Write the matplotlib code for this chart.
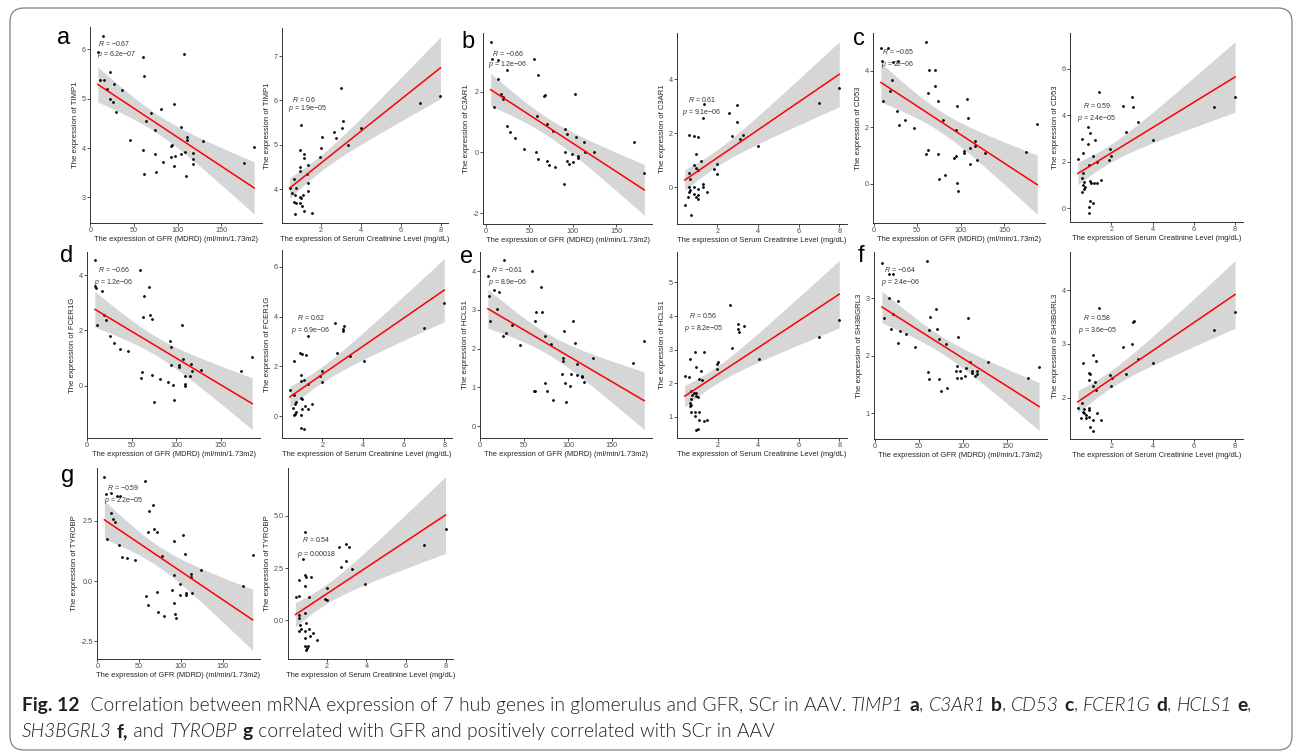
import numpy as np
import matplotlib
matplotlib.use("Agg")
import matplotlib.pyplot as plt
from matplotlib.patches import FancyBboxPatch

plt.rcParams['font.family'] = ['Liberation Sans', 'DejaVu Sans']
plt.rcParams['mathtext.fontset'] = 'custom'
plt.rcParams['mathtext.rm'] = 'Liberation Sans'
plt.rcParams['mathtext.it'] = 'Liberation Sans:italic'

W, H = 1295, 755

# ---- expression vs GFR / serum creatinine, one pair of series per gene ----
timp1_gfr_x = [15, 8.5, 60, 108, 11, 16, 22, 27, 18.5, 22, 26.5, 29, 36, 62, 81, 96, 69, 64, 74, 46,
               104, 111, 111, 129, 93, 94, 60, 74, 109, 104, 93, 97, 118, 118, 83, 96, 118, 75, 62, 110, 176, 188]
timp1_gfr_y = [6.27, 5.95, 5.85, 5.9, 5.38, 5.38, 5.54, 5.29, 5.19, 5.0, 4.93, 4.74, 5.18, 5.45, 4.79, 4.89, 4.71,
               4.54, 4.36, 4.17, 4.42, 4.22, 4.17, 4.15, 4.04, 4.07, 3.97, 3.87, 3.93, 3.87, 3.82, 3.84, 3.89, 3.77,
               3.72, 3.64, 3.67, 3.52, 3.47, 3.44, 3.7, 4.02]
timp1_scr_x = [3.0, 3.09, 3.06, 2.64, 2.75, 2.05, 2.02, 1.94, 3.33, 4.02, 6.96, 7.97, 1.0, 0.93, 1.17, 1.17, 0.96,
               0.94, 1.33, 1.3, 1.33, 0.64, 0.77, 0.43, 0.69, 0.93, 1.0, 1.12, 1.33, 0.93, 0.77, 0.64, 1.04, 1.17,
               1.54, 0.69, 0.53]
timp1_scr_y = [6.27, 5.54, 5.39, 5.29, 5.16, 5.17, 4.94, 4.73, 5.0, 5.37, 5.95, 6.1, 5.45, 4.88, 4.79, 4.7, 4.51,
               4.42, 4.55, 4.34, 4.15, 4.23, 4.02, 4.02, 3.87, 3.83, 3.8, 3.86, 3.95, 3.7, 3.68, 3.72, 3.62, 3.52,
               3.47, 3.44, 3.92]

c3ar1_gfr_x = [5.6, 7.5, 14, 14, 24, 55, 60, 18, 19.5, 20, 9.4, 66.5, 68, 59, 70, 77, 24, 28, 34, 44, 58, 60,
               70, 72, 80, 91, 93, 102, 104, 113, 91, 93, 95, 100, 99, 106, 106, 114, 124, 89.5, 170, 182]
c3ar1_gfr_y = [3.64, 3.06, 3.03, 2.4, 2.71, 3.06, 2.55, 1.93, 1.83, 1.75, 1.48, 1.86, 1.88, 1.2, 0.95, 0.69, 0.87,
               0.66, 0.49, 0.11, 0.03, -0.2, -0.27, -0.42, -0.49, 0.77, 0.62, 1.93, 0.51, 0.35, 0.02, -0.27, -0.38,
               -0.31, -0.05, -0.11, -0.19, 0.02, 0.02, -1.04, 0.35, -0.66]
c3ar1_scr_x = [8.0, 7.0, 2.96, 2.99, 2.56, 2.72, 3.12, 3.28, 4.0, 1.84, 1.97, 2.0, 1.36, 1.28, 0.59, 0.88, 1.07,
               0.93, 1.2, 0.88, 0.96, 1.07, 0.59, 0.66, 0.4, 0.69, 0.59, 0.64, 0.88, 1.04, 1.28, 1.28, 1.49, 0.88,
               0.96, 1.07, 1.04, 0.59, 0.56]
c3ar1_scr_y = [3.69, 3.11, 3.04, 2.42, 2.73, 1.91, 1.78, 1.94, 1.51, 0.68, 0.86, 0.49, 3.08, 2.56, 1.93, 1.88,
               1.85, 1.23, 0.98, 0.8, 0.7, 0.65, 0.53, 0.31, -0.68, -1.05, 0.0, -0.12, 0.0, -0.06, 0.12, 0.0, -0.18,
               -0.25, -0.37, -0.43, -0.31, -0.18, -0.37]

cd53_gfr_x = [8.3, 16, 60, 9.4, 22.6, 27.5, 10.6, 20.8, 18.9, 26.4, 29.4, 35.8, 46, 63.4, 70, 71, 62.3, 73.6, 80,
              95.5, 107, 108.7, 94.3, 62.3, 60.4, 73.6, 94.3, 92.8, 103.8, 103.8, 110.6, 117, 116, 110.6, 119,
              128, 75.5, 82, 96, 97, 175, 188]
cd53_gfr_y = [4.82, 4.82, 5.03, 4.34, 4.3, 4.36, 2.93, 3.69, 3.28, 2.57, 2.07, 2.25, 1.98, 4.02, 4.02, 3.46, 3.22,
              2.93, 2.25, 2.75, 2.99, 2.34, 1.89, 1.21, 1.04, 1.04, 0.97, 0.92, 1.09, 1.15, 1.28, 1.51, 1.34, 0.71,
              0.85, 1.1, 0.18, 0.33, 0.02, -0.26, 1.12, 2.13]
cd53_scr_x = [1.39, 3.0, 3.07, 2.59, 3.28, 2.7, 4.0, 7.0, 8.0, 1.95, 2.0, 1.9, 0.88, 0.96, 1.23, 0.88, 0.59, 0.62,
              1.1, 0.38, 1.3, 0.91, 0.62, 0.59, 0.67, 0.64, 0.72, 0.96, 1.02, 1.15, 1.3, 1.49, 0.59, 0.67, 0.96,
              1.1, 0.91, 0.91]
cd53_scr_y = [5.01, 4.79, 4.33, 4.38, 3.69, 3.28, 2.93, 4.35, 4.79, 2.55, 2.26, 2.08, 3.47, 3.21, 2.92, 2.77,
              2.99, 2.35, 2.23, 2.13, 1.98, 1.86, 1.5, 1.3, 1.13, 0.98, 0.91, 1.16, 1.06, 1.06, 1.06, 1.2, 0.69,
              0.84, 0.32, 0.21, 0.03, -0.23]

fcer1g_gfr_x = [8.6, 9.3, 9.7, 16.8, 11.2, 19.4, 21.6, 26, 29.9, 36.6, 46, 59, 63.4, 69, 70, 72.8, 62.7, 106,
                93, 94, 107, 102.6, 102.6, 94, 116, 117, 127.6, 61.6, 60.4, 72.8, 82, 91, 95.9, 110, 110, 110,
                115.7, 75, 97, 172.8, 185]
fcer1g_gfr_y = [4.54, 3.6, 3.54, 3.44, 2.21, 2.55, 2.39, 1.81, 1.55, 1.33, 1.24, 4.2, 3.24, 3.58, 2.55, 2.43,
                2.48, 2.19, 1.61, 1.39, 0.98, 0.66, 0.74, 0.73, 0.79, 0.52, 0.56, 0.48, 0.28, 0.37, 0.22, 0.13,
                0.01, 0.34, 0.06, 0.0, 0.34, -0.6, -0.54, 0.52, 1.03]
fcer1g_scr_x = [2.61, 3.0, 3.08, 3.0, 2.74, 3.34, 4.05, 7.0, 8.0, 1.32, 1.97, 2.0, 1.89, 0.9, 0.98, 1.22, 0.61,
                0.93, 1.09, 1.3, 0.93, 0.4, 0.61, 0.93, 1.01, 0.72, 0.66, 1.5, 1.15, 1.3, 0.58, 1.01, 0.72, 0.66,
                0.61, 0.93, 0.93, 1.12]
fcer1g_scr_y = [3.76, 3.42, 3.61, 3.49, 2.54, 2.4, 2.23, 3.53, 4.53, 3.22, 1.82, 1.36, 1.59, 2.54, 2.5, 2.44,
                2.23, 1.63, 1.45, 1.28, 1.41, 1.03, 0.84, 0.73, 0.68, 0.57, 0.5, 0.5, 0.41, 0.27, 0.33, 0.27, 0.16,
                0.07, 0.03, 0.03, -0.49, -0.54]

hcls1_gfr_x = [27.5, 58.8, 8.7, 9.8, 16.2, 21.8, 19.2, 11.7, 36.2, 29.4, 26.4, 45.6, 69, 63.3, 70, 62.5, 73.4,
               80.2, 105.8, 95.3, 107.7, 94.5, 94.5, 103.6, 110.4, 116, 116, 128, 110.4, 118.6, 92.7, 96.4, 102.8,
               73.4, 61.4, 62.5, 75.7, 82.9, 97.2, 174.4, 186.8]
hcls1_gfr_y = [4.28, 4.02, 3.87, 3.36, 3.51, 3.47, 3.02, 2.71, 2.62, 2.4, 2.34, 2.09, 3.59, 2.94, 2.94, 2.71,
               2.32, 2.13, 2.72, 2.47, 2.15, 1.75, 1.69, 1.35, 1.32, 1.3, 1.26, 1.77, 1.6, 1.13, 1.35, 1.11, 1.04,
               1.11, 0.9, 0.9, 0.9, 0.67, 0.62, 1.64, 2.2]
hcls1_scr_x = [2.59, 3.0, 3.28, 3.0, 3.07, 2.72, 2.0, 1.95, 1.95, 4.03, 6.99, 8.0, 0.91, 1.31, 0.62, 0.94, 1.18,
               1.1, 1.25, 0.38, 0.59, 0.7, 0.83, 0.94, 0.94, 0.75, 0.67, 0.64, 0.7, 0.64, 1.01, 0.67, 0.91, 1.1,
               0.91, 1.07, 1.31, 1.5, 0.94, 1.01]
hcls1_scr_y = [4.34, 3.75, 3.7, 3.6, 3.52, 3.05, 2.63, 2.41, 2.56, 2.71, 3.37, 3.89, 2.93, 2.93, 2.73, 2.49,
               2.36, 2.14, 2.09, 2.21, 2.19, 1.77, 1.72, 1.7, 1.62, 1.64, 1.54, 1.42, 1.35, 1.31, 1.6, 1.13, 1.13,
               1.13, 1.03, 0.91, 0.88, 0.9, 0.62, 0.65]

sh3bgrl3_gfr_x = [8.3, 59, 15.8, 21.4, 15.8, 27, 10.9, 20.7, 18.4, 29, 35.7, 26, 45.9, 62.8, 69.5, 70.3, 62,
                  73.3, 80.5, 106, 94.7, 108, 127.8, 93.6, 96, 92, 103, 110, 110, 116, 116, 113.5, 102, 93.6,
                  97.4, 59.8, 62, 73, 74.8, 81.6, 173.7, 185.7]
sh3bgrl3_gfr_y = [3.62, 3.66, 3.42, 3.43, 3.0, 2.95, 2.65, 2.73, 2.46, 2.43, 2.38, 2.22, 2.16, 2.68, 2.81, 2.47,
                  2.45, 2.3, 2.21, 2.65, 2.32, 1.9, 1.9, 1.83, 1.73, 1.73, 1.79, 1.74, 1.7, 1.73, 1.68, 1.65, 1.65,
                  1.61, 1.62, 1.71, 1.6, 1.6, 1.39, 1.43, 1.61, 1.81]
sh3bgrl3_scr_x = [1.41, 3.04, 3.1, 2.59, 3.02, 3.31, 4.0, 2.72, 1.92, 2.03, 2.0, 6.99, 8.0, 1.12, 1.26, 1.28,
                  1.23, 1.12, 0.91, 0.96, 0.91, 0.62, 0.38, 0.59, 0.67, 0.62, 0.67, 0.75, 0.91, 0.91, 0.91, 0.78,
                  1.3, 1.12, 1.52, 0.99, 1.1, 0.54]
sh3bgrl3_scr_y = [3.66, 3.4, 3.43, 2.95, 2.99, 2.72, 2.64, 2.45, 2.42, 2.37, 2.22, 3.26, 3.6, 2.8, 2.68, 2.15,
                  2.29, 2.22, 2.46, 2.45, 2.33, 2.65, 1.8, 1.9, 1.79, 1.74, 1.71, 1.68, 1.8, 1.77, 1.65, 1.62, 1.71,
                  1.59, 1.59, 1.45, 1.39, 1.63]

tyrobp_gfr_x = [8.5, 57.7, 10.4, 16.5, 23, 27, 67.3, 61.5, 16.5, 19.2, 21, 11.5, 26, 29, 36, 45, 68, 71, 60.4,
                103, 92.3, 105, 78, 91.5, 124, 112, 112, 99, 99.6, 106.5, 106.5, 114, 90, 71, 58.8, 60.4, 91.5,
                73, 80, 93, 94, 174, 186]
tyrobp_gfr_y = [4.33, 4.17, 3.61, 3.65, 3.51, 3.51, 3.17, 2.9, 2.81, 2.56, 2.43, 1.74, 1.5, 0.99, 0.97, 0.86,
                2.18, 2.02, 2.04, 1.91, 1.65, 1.13, 1.06, 0.27, 0.45, 0.29, 0.18, -0.14, -0.57, -0.5, -0.57, -0.5,
                -0.37, -0.44, -0.6, -0.98, -0.91, -1.28, -1.46, -1.35, -1.55, -0.2, 1.09]
tyrobp_scr_x = [8.0, 6.93, 0.91, 2.61, 2.98, 3.11, 2.98, 2.69, 3.27, 3.93, 2.0, 1.92, 2.0, 0.81, 0.41, 0.58,
                0.88, 0.96, 1.21, 0.88, 1.1, 0.58, 0.58, 0.58, 0.88, 0.96, 0.66, 0.71, 0.58, 0.88, 1.1, 1.29, 1.49,
                1.12, 0.88, 0.88, 1.04, 0.93, 1.01]
tyrobp_scr_y = [4.34, 3.61, 4.21, 3.52, 3.66, 3.52, 2.84, 2.57, 2.43, 1.75, 1.56, 1.03, 0.98, 2.95, 1.1, 1.92,
                2.16, 2.05, 2.05, 1.64, 1.11, 1.15, 0.25, 0.11, 0.33, -0.13, -0.2, -0.41, -0.49, -0.49, -0.41,
                -0.61, -0.95, -0.77, -0.82, -1.23, -1.2, -1.43, -1.34]

genes = ["TIMP1", "C3AR1", "CD53", "FCER1G", "HCLS1", "SH3BGRL3", "TYROBP"]
letters = ["a", "b", "c", "d", "e", "f", "g"]
gfr_ticks = [0, 50, 100, 150]
scr_ticks = [2, 4, 6, 8]
yticks_gfr = [[3, 4, 5, 6], [-2, 0, 2], [0, 2, 4], [0, 2, 4], [0, 1, 2, 3, 4], [1, 2, 3], [-2.5, 0.0, 2.5]]
yticks_scr = [[4, 5, 6, 7], [0, 2, 4], [0, 2, 4, 6], [0, 2, 4, 6], [1, 2, 3, 4, 5], [2, 3, 4], [0.0, 2.5, 5.0]]
r_gfr = ["−0.67", "−0.66", "−0.65", "−0.66", "−0.61", "−0.64", "−0.59"]
p_gfr = ["6.2e−07", "1.2e−06", "2e−06", "1.2e−06", "8.9e−06", "2.4e−06", "2.2e−05"]
r_scr = ["0.6", "0.61", "0.59", "0.62", "0.56", "0.58", "0.54"]
p_scr = ["1.9e−05", "9.1e−06", "2.4e−05", "6.9e−06", "8.2e−05", "3.6e−05", "0.00018"]

gfr_series = [(timp1_gfr_x, timp1_gfr_y), (c3ar1_gfr_x, c3ar1_gfr_y), (cd53_gfr_x, cd53_gfr_y),
              (fcer1g_gfr_x, fcer1g_gfr_y), (hcls1_gfr_x, hcls1_gfr_y), (sh3bgrl3_gfr_x, sh3bgrl3_gfr_y),
              (tyrobp_gfr_x, tyrobp_gfr_y)]
scr_series = [(timp1_scr_x, timp1_scr_y), (c3ar1_scr_x, c3ar1_scr_y), (cd53_scr_x, cd53_scr_y),
              (fcer1g_scr_x, fcer1g_scr_y), (hcls1_scr_x, hcls1_scr_y), (sh3bgrl3_scr_x, sh3bgrl3_scr_y),
              (tyrobp_scr_x, tyrobp_scr_y)]

GFR_LABEL = "The expression of GFR (MDRD) (ml/min/1.73m2)"
SCR_LABEL = "The expression of Serum Creatinine Level (mg/dL)"

# panel boxes in pixels: (left, top, right, bottom) for the GFR and SCr plots
box_gfr = [(90, 27, 262, 223), (483, 33, 652, 224), (873, 33, 1045, 223),
           (87, 252, 260, 438), (480, 252, 652, 438), (874, 252, 1047, 439), (97, 468, 260, 659)]
box_scr = [(282, 28, 448, 223), (677, 33, 847, 224), (1070, 33, 1243, 222),
           (282, 250, 452, 438), (677, 252, 847, 438), (1070, 252, 1243, 439), (288, 468, 453, 659)]
# R / p label anchors (x of R, y of R, x of p, y of p)
stat_gfr = [(98, 43, 97, 54), (492, 54, 488, 64), (882, 52, 881, 65), (98, 269, 94, 282),
            (491, 269, 488, 282), (884, 269, 881, 282), (107, 487, 104, 501)]
stat_scr = [(292, 99, 288, 109), (688, 99, 682, 112), (1083, 106, 1077, 118), (297, 317, 291, 330),
            (689, 316, 684, 329), (1083, 318, 1078, 331), (302, 540, 297, 554)]
letter_pos = [(64, 44), (468, 48), (859, 45), (67, 262), (467, 263), (861, 262), (68, 482)]


def t975(df):
    z = 1.959964
    return z + (z**3 + z) / (4 * df) + (5 * z**5 + 16 * z**3 + 3 * z) / (96 * df**2)


def smooth(x, y, n=100):
    # lm fit with 95% confidence band
    b, a = np.polyfit(x, y, 1)
    xs = np.linspace(x.min(), x.max(), n)
    fit = a + b * xs
    resid = y - (a + b * x)
    df = len(x) - 2
    s = np.sqrt(np.sum(resid**2) / df)
    se = s * np.sqrt(1 / len(x) + (xs - x.mean())**2 / np.sum((x - x.mean())**2))
    t = t975(df)
    return xs, fit, fit - t * se, fit + t * se


fig = plt.figure(figsize=(W / 100, H / 100), dpi=100)
fig.patch.set_facecolor("white")


def draw_panel(box, x, y, xticks, yticks, xlabel, ylabel):
    l, t, r, b = box
    ax = fig.add_axes([l / W, 1 - b / H, (r - l) / W, (b - t) / H])
    ax.set_facecolor("none")
    x = np.asarray(x, float)
    y = np.asarray(y, float)
    xs, fit, lo, hi = smooth(x, y)
    ax.fill_between(xs, lo, hi, color="#999999", alpha=0.4, lw=0, zorder=1)
    ax.scatter(x, y, s=4, c="black", lw=0, zorder=2)
    ax.plot(xs, fit, color="#ff0000", lw=1.1, zorder=3)
    xr = x.max() - x.min()
    ax.set_xlim(x.min() - 0.05 * xr, x.max() + 0.05 * xr)
    ylo = min(y.min(), lo.min())
    yhi = max(y.max(), hi.max())
    yr = yhi - ylo
    ax.set_ylim(ylo - 0.05 * yr, yhi + 0.05 * yr)
    ax.set_xticks(xticks)
    ax.set_xticklabels([f"{v:g}" for v in xticks])
    ax.set_yticks(yticks)
    if any(v != int(v) for v in yticks):
        ax.set_yticklabels([f"{v:.1f}" for v in yticks])
    else:
        ax.set_yticklabels([f"{v:g}" for v in yticks])
    for side in ["top", "right"]:
        ax.spines[side].set_visible(False)
    for side in ["left", "bottom"]:
        ax.spines[side].set_color("#333333")
        ax.spines[side].set_linewidth(0.7)
    ax.tick_params(length=2, width=0.6, color="#333333", labelsize=5.2, labelcolor="#4d4d4d", pad=1)
    ax.set_xlabel(xlabel, fontsize=5.4, color="#222222", labelpad=1.5)
    ax.set_ylabel(ylabel, fontsize=5.6, color="#222222", labelpad=2)
    return ax


for i, gene in enumerate(genes):
    gx, gy = gfr_series[i]
    sx, sy = scr_series[i]
    draw_panel(box_gfr[i], gx, gy, gfr_ticks, yticks_gfr[i], GFR_LABEL, f"The expression of {gene}")
    draw_panel(box_scr[i], sx, sy, scr_ticks, yticks_scr[i], SCR_LABEL, f"The expression of {gene}")

# overlay in pixel coordinates: border, letters, stats, caption
ov = fig.add_axes([0, 0, 1, 1], zorder=10)
ov.set_xlim(0, W)
ov.set_ylim(H, 0)
ov.axis("off")
ov.set_facecolor("none")

ov.add_patch(FancyBboxPatch((10, 8), 1282, 742, boxstyle="round,pad=0,rounding_size=14",
                            fc="none", ec="#808080", lw=0.9))

for (lx, ly), s in zip(letter_pos, letters):
    ov.text(lx, ly, s, fontsize=17, ha="center", va="baseline", color="black")

for i in range(len(genes)):
    for pos, rv, pv in [(stat_gfr[i], r_gfr[i], p_gfr[i]), (stat_scr[i], r_scr[i], p_scr[i])]:
        rx, ry, px, py = pos
        ov.text(rx, ry, r"$\it{R}$ = " + rv, fontsize=5.0, va="center", color="#333333")
        ov.text(px, py, r"$\it{p}$ = " + pv, fontsize=5.0, va="center", color="#333333")

# caption with mixed styles
renderer = fig.canvas.get_renderer()
cap_font = "Lato"
cap_color = "#231f20"
LIGHT, BOLD = 300, "bold"


def run_width(s, size, **kw):
    t1 = ov.text(0, 0, "|" + s + "|", fontsize=size, family=cap_font, **kw)
    t2 = ov.text(0, 0, "||", fontsize=size, family=cap_font, **kw)
    w = t1.get_window_extent(renderer).width - t2.get_window_extent(renderer).width
    t1.remove()
    t2.remove()
    return w


line1 = [("Fig. 12", "normal", BOLD), ("  Correlation between mRNA expression of 7 hub genes in glomerulus "
                                        "and GFR, SCr in AAV. ", "normal", LIGHT),
         ("TIMP1", "italic", LIGHT), (" ", "normal", LIGHT), ("a", "normal", BOLD),
         (", ", "normal", LIGHT), ("C3AR1", "italic", LIGHT), (" ", "normal", LIGHT),
         ("b", "normal", BOLD), (", ", "normal", LIGHT), ("CD53", "italic", LIGHT),
         (" ", "normal", LIGHT), ("c", "normal", BOLD), (", ", "normal", LIGHT),
         ("FCER1G", "italic", LIGHT), (" ", "normal", LIGHT), ("d", "normal", BOLD),
         (", ", "normal", LIGHT), ("HCLS1", "italic", LIGHT), (" ", "normal", LIGHT),
         ("e", "normal", BOLD), (",", "normal", LIGHT)]
line2 = [("SH3BGRL3", "italic", LIGHT), (" ", "normal", LIGHT), ("f,", "normal", BOLD),
         (" and ", "normal", LIGHT), ("TYROBP", "italic", LIGHT), (" ", "normal", LIGHT),
         ("g", "normal", BOLD),
         (" correlated with GFR and positively correlated with SCr in AAV", "normal", LIGHT)]

base = 12.0
total = sum(run_width(s, base, style=st, weight=wt) for s, st, wt in line1)
cap_size = base * 1228 / total

for runs, y0 in [(line1, 711), (line2, 737)]:
    x0 = 22
    for s, st, wt in runs:
        ov.text(x0, y0, s, fontsize=cap_size, family=cap_font, style=st, weight=wt,
                va="baseline", ha="left", color=cap_color)
        x0 += run_width(s, cap_size, style=st, weight=wt)

fig.savefig("out.png", dpi=100, facecolor="white")
